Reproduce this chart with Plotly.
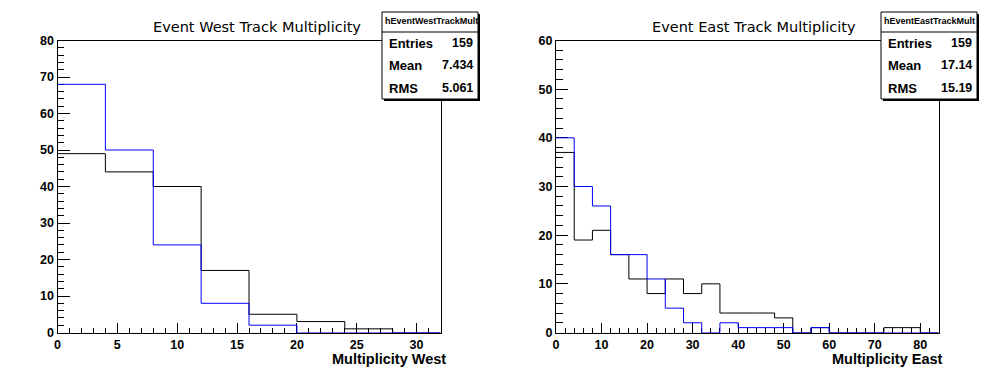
import numpy as np
import plotly.graph_objects as go

# ---------------- data ----------------
west_bin_width = 4
west_black = [49, 44, 40, 17, 5, 3, 1, 0]
west_blue = [68, 50, 24, 8, 2, 0, 0, 0]

east_bin_width = 4
east_black = [37, 19, 21, 16, 11, 8, 11, 8, 10, 4, 4, 4, 3, 0, 1, 0, 0, 0, 1, 1, 0]
east_blue = [40, 30, 26, 16, 16, 11, 5, 2, 0, 2, 1, 1, 1, 0, 1, 0, 0, 0, 0, 0, 0]

west_title = "Event West Track Multiplicity"
east_title = "Event East Track Multiplicity"
west_xlabel = "Multiplicity West"
east_xlabel = "Multiplicity East"

west_stats_name = "hEventWestTrackMult"
east_stats_name = "hEventEastTrackMult"
stat_labels = ["Entries", "Mean", "RMS"]
west_stat_values = ["159", "7.434", "5.061"]
east_stat_values = ["159", "17.14", "15.19"]

W, H = 996, 372


def px(x):
    return x / W


def py(y):
    return 1 - y / H


def step_xy(counts, width):
    edges = np.arange(len(counts) + 1) * width
    ys = list(counts) + [0]
    return edges, ys


fig = go.Figure()

for counts, color, xa, ya in [
    (west_black, "#000000", "x", "y"),
    (west_blue, "#0000ff", "x", "y"),
    (east_black, "#000000", "x2", "y2"),
    (east_blue, "#0000ff", "x2", "y2"),
]:
    bw = west_bin_width if xa == "x" else east_bin_width
    xs, ys = step_xy(counts, bw)
    fig.add_trace(go.Scatter(x=xs, y=ys, mode="lines", line=dict(color=color, width=1, shape="hv"),
                             xaxis=xa, yaxis=ya, showlegend=False, hoverinfo="skip"))

tickfont = dict(family="Liberation Sans", size=12.5, color="black", weight="bold")


def xaxis_cfg(dom, rng, dtick, minor_dtick):
    return dict(domain=dom, range=rng, dtick=dtick, tick0=0, ticks="inside", ticklen=9.5,
                tickwidth=1, tickcolor="black", showline=True, linecolor="black", linewidth=1,
                mirror=True, showgrid=False, zeroline=False, tickfont=tickfont,
                layer="below traces", automargin=False,
                minor=dict(dtick=minor_dtick, tick0=0, ticks="inside", ticklen=5,
                           tickcolor="black", tickwidth=1, showgrid=False))


def yaxis_cfg(dom, rng, dtick, minor_dtick, anchor):
    return dict(domain=dom, range=rng, dtick=dtick, tick0=0, ticks="inside", ticklen=12,
                tickwidth=1, tickcolor="black", showline=True, linecolor="black", linewidth=1,
                mirror=True, showgrid=False, zeroline=False, tickfont=tickfont, anchor=anchor,
                layer="below traces", automargin=False,
                minor=dict(dtick=minor_dtick, tick0=0, ticks="inside", ticklen=6.5,
                           tickcolor="black", tickwidth=1, showgrid=False))


ydom = [py(332.5), py(40.5)]
fig.update_layout(
    template="none",
    width=W, height=H, margin=dict(l=0, r=0, t=0, b=0, pad=0, autoexpand=False),
    paper_bgcolor="white", plot_bgcolor="white",
    xaxis=xaxis_cfg([px(57.5), px(440.5)], [0, len(west_black) * west_bin_width], 5, 1) | dict(anchor="y"),
    yaxis=yaxis_cfg(ydom, [0, 80], 10, 2, "x"),
    xaxis2=xaxis_cfg([px(556), px(938.5)], [0, len(east_black) * east_bin_width], 10, 2) | dict(anchor="y2"),
    yaxis2=yaxis_cfg(ydom, [0, 60], 10, 2, "x2"),
)

shapes = []
annotations = []

for title, cx in [(west_title, 257), (east_title, 754)]:
    annotations.append(dict(text=title, x=px(cx), y=py(27), xref="paper", yref="paper",
                            xanchor="center", yanchor="middle", showarrow=False,
                            font=dict(family="DejaVu Sans", size=14.5, color="black")))

for label, rx in [(west_xlabel, 448), (east_xlabel, 945)]:
    annotations.append(dict(text=label, x=px(rx), y=py(358.5), xref="paper", yref="paper",
                            xanchor="right", yanchor="middle", showarrow=False,
                            font=dict(family="Liberation Sans", size=14.5, color="black", weight="bold")))

for name, values, bx0 in [(west_stats_name, west_stat_values, 382), (east_stats_name, east_stat_values, 881)]:
    bx1 = bx0 + 96
    by0, by1 = 12, 99
    # shadow
    shapes.append(dict(type="rect", xref="paper", yref="paper", x0=px(bx0 + 2), x1=px(bx1 + 2),
                       y0=py(by1 + 2), y1=py(by0 + 2), fillcolor="black", line=dict(width=0),
                       layer="above"))
    shapes.append(dict(type="rect", xref="paper", yref="paper", x0=px(bx0), x1=px(bx1),
                       y0=py(by1), y1=py(by0), fillcolor="white", line=dict(color="black", width=1),
                       layer="above"))
    shapes.append(dict(type="line", xref="paper", yref="paper", x0=px(bx0), x1=px(bx1),
                       y0=py(32), y1=py(32), line=dict(color="black", width=1), layer="above"))
    annotations.append(dict(text=name, x=px(bx0 + 1), y=py(21.5), xref="paper", yref="paper",
                            xanchor="left", yanchor="middle", showarrow=False,
                            font=dict(family="Liberation Sans", size=9, color="black", weight="bold")))
    for i, (lab, val) in enumerate(zip(stat_labels, values)):
        yy = 43 + i * 22.5
        annotations.append(dict(text=lab, x=px(bx0 + 5), y=py(yy), xref="paper", yref="paper",
                                xanchor="left", yanchor="middle", showarrow=False,
                                font=dict(family="Liberation Sans", size=13, color="black", weight="bold")))
        annotations.append(dict(text=val, x=px(bx1 - 3), y=py(yy), xref="paper", yref="paper",
                                xanchor="right", yanchor="middle", showarrow=False,
                                font=dict(family="Liberation Sans", size=12.5, color="black", weight="bold")))

fig.update_layout(shapes=shapes, annotations=annotations)

fig.write_html("out.html", config=dict(displayModeBar=False),
               post_script="document.body.style.margin='0';")
